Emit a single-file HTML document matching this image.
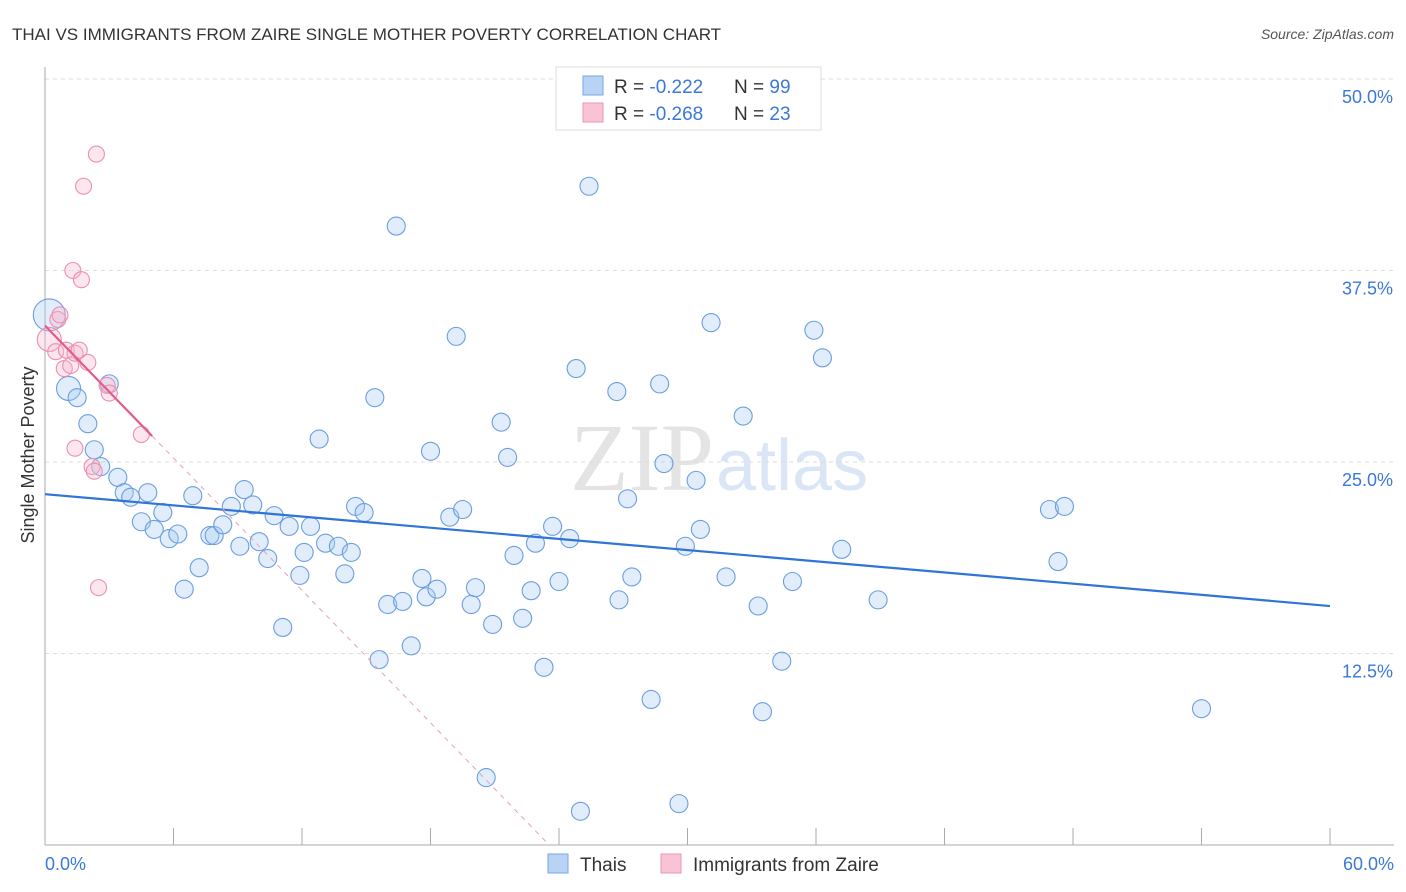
<!DOCTYPE html>
<html><head><meta charset="utf-8"><style>
body{margin:0;background:#fff;font-family:"Liberation Sans",sans-serif;}
svg{display:block}
</style></head><body>
<svg id="chart" width="1406" height="892">
<text x="12" y="40" font-size="17" fill="#333">THAI VS IMMIGRANTS FROM ZAIRE SINGLE MOTHER POVERTY CORRELATION CHART</text>
<text x="1394" y="39" font-size="14" fill="#555" font-style="italic" text-anchor="end">Source: ZipAtlas.com</text>
<text x="714" y="490" font-size="96" fill="#e4e4e4" text-anchor="end" font-family="Liberation Serif">ZIP</text>
<text x="716" y="490" font-size="72" fill="#dae6f5">atlas</text>
<g id="grid"></g><g id="axes"></g><g id="marks"></g>
<text transform="translate(34,455) rotate(-90)" font-size="18" fill="#333" text-anchor="middle">Single Mother Poverty</text>
<g>
<rect x="556" y="67" width="265" height="63" fill="#fff" stroke="#ddd"/>
<rect x="583" y="76" width="20" height="19" fill="#b8d3f3" stroke="#7aa7e0"/>
<rect x="583" y="103" width="20" height="19" fill="#f8c3d3" stroke="#ee96b1"/>
<text x="614" y="93" font-size="19" fill="#333">R = <tspan fill="#3b78d8">-0.222</tspan><tspan x="734">N = </tspan><tspan fill="#3b78d8">99</tspan></text>
<text x="614" y="120" font-size="19" fill="#333">R = <tspan fill="#3b78d8">-0.268</tspan><tspan x="734">N = </tspan><tspan fill="#3b78d8">23</tspan></text>
</g>
<g>
<rect x="548" y="854" width="20" height="19" fill="#b8d3f3" stroke="#7aa7e0"/>
<text x="580" y="871" font-size="19" fill="#333">Thais</text>
<rect x="661" y="854" width="20" height="19" fill="#f8c3d3" stroke="#ee96b1"/>
<text x="693" y="871" font-size="19" fill="#333">Immigrants from Zaire</text>
</g>
</svg>
<script>
const blueX=[0.2,1.1,1.5,2.0,2.3,2.6,3.0,3.4,3.7,4.0,4.5,4.8,5.1,5.5,5.8,6.2,6.5,6.9,7.2,7.7,7.9,8.3,8.7,9.1,9.3,9.7,10.0,10.4,10.7,11.1,11.4,11.9,12.1,12.4,12.8,13.1,13.7,14.0,14.3,14.5,14.9,15.4,15.6,16.0,16.4,16.7,17.1,17.6,17.8,18.0,18.3,18.9,19.2,19.5,19.9,20.1,20.6,20.9,21.3,21.6,21.9,22.3,22.7,22.9,23.3,23.7,24.0,24.5,24.8,25.0,25.4,26.7,26.8,27.2,27.4,28.3,28.7,28.9,29.6,29.9,30.4,30.6,31.1,31.8,32.6,33.3,33.5,34.4,34.9,35.9,36.3,37.2,38.9,46.9,47.3,47.6,54.0];
const blueY=[34.6,29.8,29.2,27.5,25.8,24.7,30.1,24.0,23.0,22.7,21.1,23.0,20.6,21.7,20.0,20.3,16.7,22.8,18.1,20.2,20.2,20.9,22.1,19.5,23.2,22.2,19.8,18.7,21.5,14.2,20.8,17.6,19.1,20.8,26.5,19.7,19.5,17.7,19.1,22.1,21.7,29.2,12.1,15.7,40.4,15.9,13.0,17.4,16.2,25.7,16.7,21.4,33.2,21.9,15.7,16.8,4.4,14.4,27.6,25.3,18.9,14.8,16.6,19.7,11.6,20.8,17.2,20.0,31.1,2.2,43.0,29.6,16.0,22.6,17.5,9.5,30.1,24.9,2.7,19.5,23.8,20.6,34.1,17.5,28.0,15.6,8.7,12.0,17.2,33.6,31.8,19.3,16.0,21.9,18.5,22.1,8.9];
const pinkX=[0.2,0.5,0.6,0.7,0.9,1.0,1.2,1.3,1.4,1.4,1.6,1.8,1.7,2.0,2.2,2.3,2.4,2.5,2.9,3.0,4.5];
const pinkY=[33.0,32.2,34.3,34.6,31.1,32.3,31.3,37.5,25.9,32.1,32.3,43.0,36.9,31.5,24.7,24.4,45.1,16.8,30.0,29.5,26.8];
const blueTrend=[22.9,-0.1217];
const pinkTrend=[33.9,-1.44];
const yTicks=[12.5,25.0,37.5,50.0];
const xTicks=[0,6,12,18,24,30,36,42,48,54,60];
const NS='http://www.w3.org/2000/svg';
const sx=v=>45+v*21.417, sy=v=>845-v*15.32;
function mk(t,a,p){const e=document.createElementNS(NS,t);for(const k in a)e.setAttribute(k,a[k]);p.appendChild(e);return e;}
const grid=document.getElementById('grid'),axes=document.getElementById('axes'),marks=document.getElementById('marks');
yTicks.forEach(v=>{
  const l=mk('line',{x1:45,x2:1394,y1:sy(v),y2:sy(v),stroke:'#ddd','stroke-dasharray':'4,4'},grid);
  
  
  const t=mk('text',{x:1393,y:sy(v)+24,'font-size':18,fill:'#3b78d8','text-anchor':'end'},axes);
  t.textContent=v.toFixed(1)+'%';
  
  
});
mk('line',{x1:45,x2:45,y1:67,y2:845,stroke:'#aaa'},axes);
mk('line',{x1:45,x2:1394,y1:845,y2:845,stroke:'#aaa'},axes);
xTicks.forEach(v=>{
  const l=mk('line',{x1:sx(v),x2:sx(v),y1:828,y2:845,stroke:'#aaa'},axes);
  
  
});
[[0,'0.0%','start',45],[60,'60.0%','end',1394]].forEach(d=>{
  const t=mk('text',{x:d[3],y:870,'font-size':18,fill:'#3b78d8','text-anchor':d[2]},axes);
  t.textContent=d[1];
  
  
});
blueX.forEach((x,i)=>{
  const r=i===0?16:(i===1?12:9);
  const c=mk('circle',{cx:sx(x),cy:sy(blueY[i]),r:r,fill:'rgba(170,202,242,0.35)',stroke:'#6a9ee0','stroke-width':1.1},marks);
  
  
});
pinkX.forEach((x,i)=>{
  const r=i===0?12:8;
  const c=mk('circle',{cx:sx(x),cy:sy(pinkY[i]),r:r,fill:'rgba(246,185,205,0.35)',stroke:'#ec8fae','stroke-width':1.1},marks);
  
  
});
const bt=mk('line',{x1:sx(0),y1:sy(blueTrend[0]),x2:sx(60),y2:sy(blueTrend[0]+blueTrend[1]*60),stroke:'#2f74d6','stroke-width':2.2},marks);


const x0=-pinkTrend[0]/pinkTrend[1];
const pd=mk('line',{x1:sx(5),y1:sy(pinkTrend[0]+pinkTrend[1]*5),x2:sx(x0),y2:sy(0),stroke:'#e8a0b8','stroke-width':1,'stroke-dasharray':'5,5'},marks);


const pt=mk('line',{x1:sx(0),y1:sy(pinkTrend[0]),x2:sx(5),y2:sy(pinkTrend[0]+pinkTrend[1]*5),stroke:'#e35b8a','stroke-width':2.2},marks);


</script>
</body></html>
